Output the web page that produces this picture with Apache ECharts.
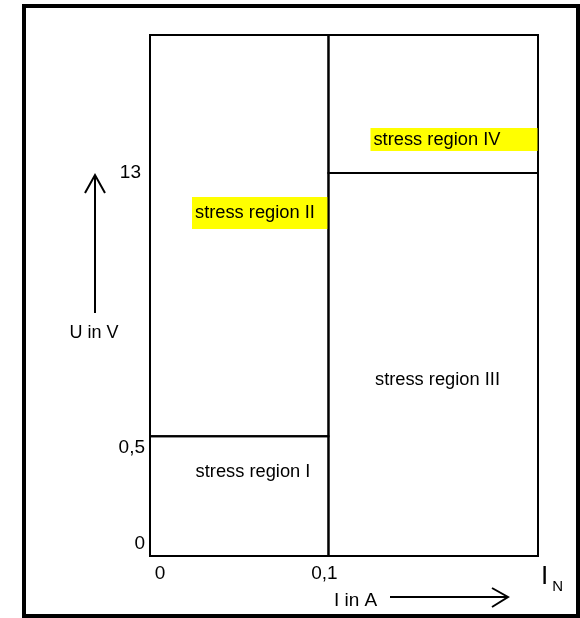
<!DOCTYPE html>
<html>
<head>
<meta charset="utf-8">
<script src="https://cdn.jsdelivr.net/npm/echarts@6/dist/echarts.min.js"></script>
<style>
html, body { margin: 0; padding: 0; background: #fff; }
#chart { width: 580px; height: 618px; }
</style>
</head>
<body>
<div id="chart"></div>
<script>
// schematic axes: 0..1 across the plot, ticks are not to scale
const xTickPos = [0, 0.46];
const xTickLabels = ['0', '0,1'];
const yTickPos = [0, 0.23, 0.735];
const yTickLabels = ['0', '0,5', '13'];

const regionNames = ['stress region I', 'stress region II', 'stress region III', 'stress region IV'];
const regionX0 = [0, 0, 0.46, 0.46];
const regionX1 = [0.46, 0.46, 1, 1];
const regionY0 = [0, 0.23, 0, 0.735];
const regionY1 = [0.23, 1, 0.735, 1];

// label placement (px from region top-left) and look
const labelStyle = [
    { dx: 103, dy: 36, align: 'center', verticalAlign: 'middle' },
    { dx: 42, dy: 162, align: 'left', verticalAlign: 'top', bg: '#ffff00', padding: [7, 13, 7, 3] },
    { dx: 109, dy: 207, align: 'center', verticalAlign: 'middle' },
    { dx: 42, dy: 93, align: 'left', verticalAlign: 'top', bg: '#ffff00', padding: [3, 37, 2, 3] }
];

const font = 'Liberation Sans, Arial, sans-serif';
const chart = echarts.init(document.getElementById('chart'));

const regionData = regionNames.map((n, i) => [regionX0[i], regionY0[i], regionX1[i], regionY1[i], i]);

chart.setOption({
    animation: false,
    backgroundColor: '#fff',
    grid: { left: 150, right: 42, top: 35, bottom: 62 },
    xAxis: {
        type: 'value', min: 0, max: 1,
        axisLine: { show: false }, axisTick: { show: false }, splitLine: { show: false },
        axisLabel: {
            customValues: xTickPos,
            margin: 8,
            formatter: function (v) {
                var i = xTickPos.indexOf(v);
                return i == 0 ? '{a|' + xTickLabels[i] + '}' : '{b|' + xTickLabels[i] + '}';
            },
            rich: {
                a: { fontFamily: font, fontSize: 19, color: '#000', padding: [0, 0, 0, 20] },
                b: { fontFamily: font, fontSize: 19, color: '#000', padding: [0, 8, 0, 0] }
            }
        }
    },
    yAxis: {
        type: 'value', min: 0, max: 1,
        axisLine: { show: false }, axisTick: { show: false }, splitLine: { show: false },
        axisLabel: {
            customValues: yTickPos,
            margin: 5,
            formatter: function (v) {
                var i = yTickPos.indexOf(v);
                return ['{a|', '{b|', '{c|'][i] + yTickLabels[i] + '}';
            },
            rich: {
                a: { fontFamily: font, fontSize: 19, color: '#000', padding: [0, 0, 25, 0] },
                b: { fontFamily: font, fontSize: 19, color: '#000', padding: [24, 0, 0, 0] },
                c: { fontFamily: font, fontSize: 19, color: '#000', padding: [0, 4, 0, 0] }
            }
        }
    },
    series: [{
        type: 'custom',
        data: regionData,
        renderItem: function (params, api) {
            var p0 = api.coord([api.value(0), api.value(3)]);
            var p1 = api.coord([api.value(2), api.value(1)]);
            var i = api.value(4);
            var s = labelStyle[i];
            return {
                type: 'group',
                children: [{
                    type: 'rect',
                    shape: { x: p0[0], y: p0[1], width: p1[0] - p0[0], height: p1[1] - p0[1] },
                    style: { fill: 'none', stroke: '#000', lineWidth: 2 }
                }, {
                    type: 'text',
                    x: p0[0] + s.dx, y: p0[1] + s.dy,
                    style: {
                        text: regionNames[i],
                        fontFamily: font, fontSize: 18.3, fill: '#000',
                        align: s.align, verticalAlign: s.verticalAlign,
                        lineHeight: 18,
                        backgroundColor: s.bg || null,
                        padding: s.padding || 0
                    }
                }]
            };
        }
    }],
    graphic: [
        { type: 'rect', shape: { x: 24, y: 6, width: 554, height: 610 }, style: { fill: 'none', stroke: '#000', lineWidth: 4 } },
        { type: 'line', shape: { x1: 95, y1: 313, x2: 95, y2: 175 }, style: { stroke: '#000', lineWidth: 2 } },
        { type: 'polyline', shape: { points: [[85, 193], [95, 175], [105, 193]] }, style: { fill: 'none', stroke: '#000', lineWidth: 2 } },
        { type: 'text', x: 94, y: 333, style: { text: 'U in V', fontFamily: font, fontSize: 18, fill: '#000', align: 'center', verticalAlign: 'middle' } },
        { type: 'text', x: 334, y: 601, style: { text: 'I in A', fontFamily: font, fontSize: 19, fill: '#000', align: 'left', verticalAlign: 'middle' } },
        { type: 'line', shape: { x1: 390, y1: 597, x2: 507, y2: 597 }, style: { stroke: '#000', lineWidth: 2 } },
        { type: 'polyline', shape: { points: [[492, 588], [508, 597], [492, 607]] }, style: { fill: 'none', stroke: '#000', lineWidth: 2 } },
        {
            type: 'text', x: 541, y: 590,
            style: {
                text: '{i|I}{n|N}', align: 'left', verticalAlign: 'bottom',
                rich: {
                    i: { fontFamily: font, fontSize: 26, fill: '#000', verticalAlign: 'bottom' },
                    n: { fontFamily: font, fontSize: 15, fill: '#000', verticalAlign: 'bottom', padding: [0, 0, -4, 4] }
                }
            }
        }
    ]
});
</script>
</body>
</html>
